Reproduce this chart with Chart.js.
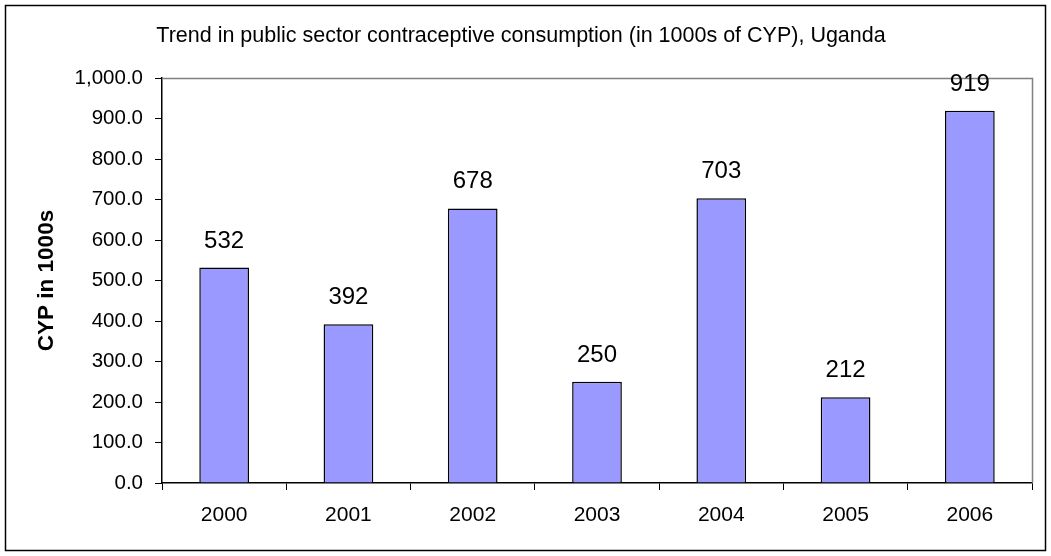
<!DOCTYPE html>
<html>
<head>
<meta charset="utf-8">
<script src="https://cdn.jsdelivr.net/npm/chart.js@4.4.1/dist/chart.umd.min.js"></script>
<style>
  html, body { margin: 0; padding: 0; background: #fff; }
  canvas { display: block; }
</style>
</head>
<body>
<canvas id="chart" width="1051" height="556"></canvas>
<script>
'use strict';

var years = ['2000', '2001', '2002', '2003', '2004', '2005', '2006'];
var cypThousands = [532, 392, 678, 250, 703, 212, 919];
var yTicks = [0, 100, 200, 300, 400, 500, 600, 700, 800, 900, 1000];

var FONT = '"Liberation Sans", Arial, sans-serif';

// frame round the whole chart, grey box round the plot area
var framePlugin = {
    id: 'frame',
    beforeDraw: function (chart) {
        var ctx = chart.ctx;
        ctx.save();
        ctx.fillStyle = '#fff';
        ctx.fillRect(0, 0, chart.width, chart.height);
        ctx.strokeStyle = '#000';
        ctx.lineWidth = 1.5;
        ctx.strokeRect(5.5, 5.5, chart.width - 11, chart.height - 11);
        ctx.restore();
    },
    beforeDatasetsDraw: function (chart) {
        var a = chart.chartArea, ctx = chart.ctx;
        ctx.save();
        ctx.strokeStyle = '#808080';
        ctx.lineWidth = 1.5;
        ctx.beginPath();
        ctx.moveTo(a.left, a.top + 0.5);
        ctx.lineTo(a.right + 0.5, a.top + 0.5);
        ctx.lineTo(a.right + 0.5, a.bottom);
        ctx.stroke();
        ctx.restore();
    }
};

// value printed above each bar
var valueLabels = {
    id: 'valueLabels',
    afterDatasetsDraw: function (chart) {
        var ctx = chart.ctx;
        var meta = chart.getDatasetMeta(0);
        ctx.save();
        ctx.font = '24px ' + FONT;
        ctx.fillStyle = '#000';
        ctx.textAlign = 'center';
        ctx.textBaseline = 'alphabetic';
        meta.data.forEach(function (bar, i) {
            ctx.fillText(String(cypThousands[i]), bar.x, bar.y - 20);
        });
        ctx.restore();
    }
};

var ctx = document.getElementById('chart').getContext('2d');
new Chart(ctx, {
    type: 'bar',
    data: {
        labels: years,
        datasets: [{
            data: cypThousands,
            backgroundColor: '#9999FF',
            borderColor: '#000',
            borderWidth: 1.5,
            categoryPercentage: 1.0,
            barPercentage: 0.4
        }]
    },
    options: {
        responsive: false,
        animation: false,
        devicePixelRatio: 1,
        layout: { padding: { left: 10, right: 19, top: 20, bottom: 0 } },
        plugins: {
            legend: { display: false },
            tooltip: { enabled: false },
            title: {
                display: true,
                text: 'Trend in public sector contraceptive consumption (in 1000s of CYP), Uganda',
                color: '#000',
                font: { family: FONT, size: 21.5, weight: 'normal' },
                padding: { top: 3.5, bottom: 28.7 }
            }
        },
        scales: {
            x: {
                grid: { display: true, drawOnChartArea: false, drawTicks: true, tickLength: 7, color: '#000', offset: true },
                border: { display: true, color: '#000', width: 1.5 },
                ticks: { color: '#000', font: { family: FONT, size: 21 }, padding: 13, maxRotation: 0 },
                afterFit: function (scale) { scale.height = 73; }
            },
            y: {
                min: 0,
                max: 1000,
                grid: { display: true, drawOnChartArea: false, drawTicks: true, tickLength: 7, color: '#000' },
                border: { display: true, color: '#000', width: 1.5 },
                afterBuildTicks: function (scale) {
                    scale.ticks = yTicks.map(function (v) { return { value: v }; });
                },
                ticks: {
                    color: '#000',
                    font: { family: FONT, size: 20.5 },
                    padding: 12,
                    callback: function (v) {
                        return Number(v).toLocaleString('en-US', { minimumFractionDigits: 1, maximumFractionDigits: 1 });
                    }
                },
                title: {
                    display: true,
                    text: 'CYP in 1000s',
                    color: '#000',
                    font: { family: FONT, size: 22.5, weight: 'bold' },
                    padding: { top: 23, bottom: 0 }
                },
                afterFit: function (scale) { scale.width = 152; }
            }
        }
    },
    plugins: [framePlugin, valueLabels]
});
</script>
</body>
</html>
